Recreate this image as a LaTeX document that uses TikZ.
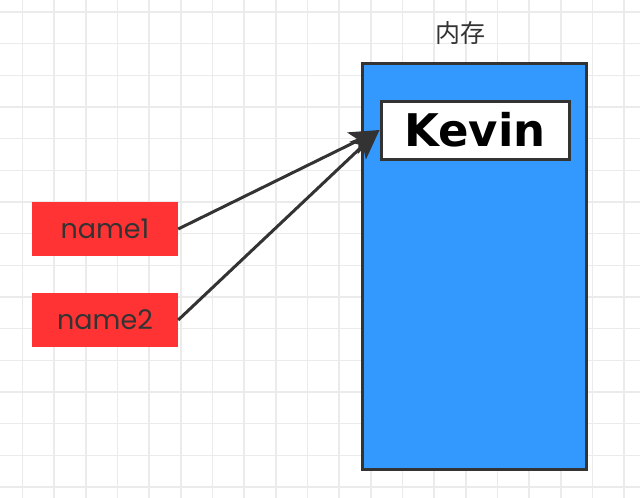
\documentclass[tikz,border=0pt]{standalone}
\usepackage{fontspec}
\usepackage{xcolor}
\usepackage{tikz}
\usetikzlibrary{arrows.meta}

\newfontfamily\kevinfont{DejaVu Sans}
\newfontfamily\namefont{Poppins}
\newfontfamily\cjk{Noto Sans CJK SC}

\definecolor{gridgray}{HTML}{EBEBEB}
\definecolor{varred}{HTML}{FF3333}
\definecolor{memblue}{HTML}{3399FF}
\definecolor{darkline}{HTML}{333333}

\tikzset{
  varbox/.style={fill=varred, minimum width=146pt, minimum height=54pt, inner sep=0pt,
    font=\namefont\fontsize{27}{27}\selectfont, text=darkline},
  pointer/.style={draw=darkline, line width=3pt, -{Stealth[length=30pt, width=24pt, inset=7pt]}}
}

\begin{document}
\begin{tikzpicture}[x=1pt, y=-1pt]
        \useasboundingbox (0,0) rectangle (640,498);
        \fill[white] (0,0) rectangle (640,498);

        % grid
        \foreach \k in {0,...,19}
          \draw[gridgray, line width=1.5pt] (22.5+31.67*\k, 0) -- (22.5+31.67*\k, 498);
        \foreach \k in {0,...,15}
          \draw[gridgray, line width=1.5pt] (0, 12+31.67*\k) -- (640, 12+31.67*\k);

        \node (mem) at (474, 266) [draw=darkline, line width=3pt, fill=memblue,
          minimum width=224pt, minimum height=406pt, inner sep=0pt] {};
        \node (memlabel) at (460, 33) {\cjk\fontsize{25}{25}\selectfont\color{darkline}内存};

        \node (kevin) at (475, 130) [draw=darkline, line width=3pt, fill=white,
          minimum width=188pt, minimum height=58pt, inner sep=0pt]
          {\kevinfont\bfseries\fontsize{45}{45}\selectfont Kevin};

        \node (name1) at (105, 229) [varbox] {name1};
        \node (name2) at (105, 320) [varbox] {name2};

        \draw[pointer] (name1.east) -- (kevin.west);
        \draw[pointer] (name2.east) -- (kevin.west);
      \end{tikzpicture}
\end{document}
